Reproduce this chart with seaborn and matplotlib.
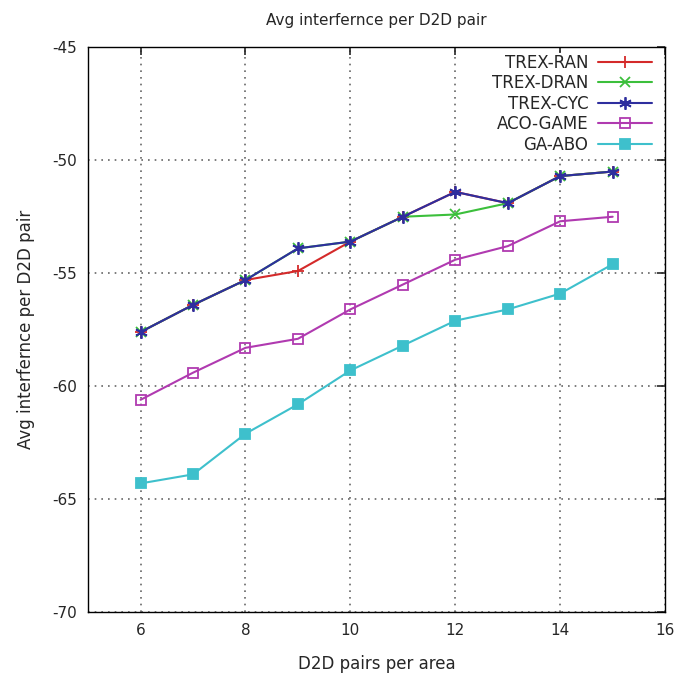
import matplotlib
matplotlib.use("Agg")
import matplotlib.pyplot as plt
import seaborn as sns

# data
pairs = [6, 7, 8, 9, 10, 11, 12, 13, 14, 15]
trex_ran = [-57.6, -56.4, -55.3, -54.9, -53.6, -52.5, -51.4, -51.9, -50.7, -50.5]
trex_dran = [-57.6, -56.4, -55.3, -53.9, -53.6, -52.5, -52.4, -51.9, -50.7, -50.5]
trex_cyc = [-57.6, -56.4, -55.3, -53.9, -53.6, -52.5, -51.4, -51.9, -50.7, -50.5]
aco_game = [-60.6, -59.4, -58.3, -57.9, -56.6, -55.5, -54.4, -53.8, -52.7, -52.5]
ga_abo = [-64.3, -63.9, -62.1, -60.8, -59.3, -58.2, -57.1, -56.6, -55.9, -54.6]

sns.set_style("white")
plt.rcParams['font.family'] = ['DejaVu Sans']
plt.rcParams['axes.unicode_minus'] = False

fig = plt.figure(figsize=(6.78, 6.75), dpi=100)
ax = fig.add_axes([0.130, 0.093, 0.851, 0.837])

series = [
    ("TREX-RAN", trex_ran, "#d42a2a", "+", "none", 9),
    ("TREX-DRAN", trex_dran, "#3cbf3c", "x", "none", 7),
    ("TREX-CYC", trex_cyc, "#2e2e9e", (6, 2, 0), "none", 9),
    ("ACO-GAME", aco_game, "#b03ab0", "s", "none", 7),
    ("GA-ABO", ga_abo, "#3ec0cc", "s", "#3ec0cc", 7),
]
for name, vals, col, mk, fc, ms in series:
    sns.lineplot(x=pairs, y=vals, ax=ax, color=col, marker=mk, markersize=ms,
                 markerfacecolor=fc, markeredgecolor=col, markeredgewidth=1.3,
                 linewidth=1.5, label=name)

ax.set_xlim(5, 16)
ax.set_ylim(-70, -45)
ax.set_xticks([6, 8, 10, 12, 14, 16])
ax.set_yticks([-70, -65, -60, -55, -50, -45])
ax.tick_params(direction="in", length=6, width=1.2, top=True, right=True,
               labelsize=11, pad=8)
for s in ax.spines.values():
    s.set_color("black")
    s.set_linewidth(1.0)
ax.grid(True, linestyle=(0, (1, 3)), color="#666666", linewidth=1.2)

ax.set_title("Avg interfernce per D2D pair", fontsize=11, pad=16)
ax.set_xlabel("D2D pairs per area", fontsize=12, labelpad=12)
ax.set_ylabel("Avg interfernce per D2D pair", fontsize=12, labelpad=12)

leg = ax.legend(loc="upper right", bbox_to_anchor=(0.978, 0.99),
                frameon=True, markerfirst=False, fontsize=12,
                handlelength=3.2, labelspacing=0.15, borderaxespad=0.0,
                handletextpad=0.6, borderpad=0.05, fancybox=False)
leg.get_frame().set_facecolor("white")
leg.get_frame().set_edgecolor("none")
leg.get_frame().set_alpha(1.0)

fig.savefig("out.png", dpi=100)
